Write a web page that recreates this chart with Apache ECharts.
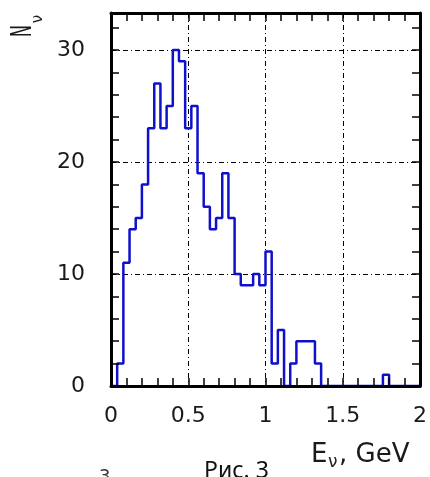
<!DOCTYPE html>
<html>
<head>
<meta charset="utf-8">
<script src="https://cdn.jsdelivr.net/npm/echarts@6/dist/echarts.min.js"></script>
<style>
  html, body { margin: 0; padding: 0; background: #fff; }
  #main { width: 430px; height: 477px; }
</style>
</head>
<body>
<div id="main"></div>
<script>
// histogram of neutrino energies, bins of 0.04 GeV starting at 0
var binStart = 0;
var binWidth = 0.04;
var counts = [
  0, 2, 11, 14, 15, 18, 23, 27, 23, 25,
  30, 29, 23, 25, 19, 16, 14, 15, 19, 15,
  10, 9, 9, 10, 9, 12, 2, 5, 0, 2,
  4, 4, 4, 2, 0, 0, 0, 0, 0, 0,
  0, 0, 0, 0, 1, 0, 0, 0, 0, 0
];
var xTicks = [0, 0.5, 1, 1.5, 2];
var yTicks = [0, 10, 20, 30];

var stepData = counts.map(function (c, i) {
  return [+(binStart + i * binWidth).toFixed(4), c];
});
stepData.push([+(binStart + counts.length * binWidth).toFixed(4), counts[counts.length - 1]]);

var labelFont = 'DejaVu Sans';
var dashDot = [5, 3, 1, 3];
var tickStyle = { color: '#000', width: 1.5 };
var xRange = { min: 0, max: 2, interval: 0.5 };
var yRange = { min: 0, max: 33.3, interval: 10 };

// frame line of one side (no ticks)
function frameAxis(range, extra) {
  return Object.assign({
    type: 'value',
    axisLine: { show: true, onZero: false, lineStyle: { color: '#000', width: 3 } },
    axisTick: { show: false },
    minorTick: { show: false },
    axisLabel: { show: false },
    splitLine: { show: false }
  }, range, extra);
}
// ticks only, pulled inside the frame by the tick length
function tickAxis(range, pos) {
  return Object.assign({
    type: 'value', position: pos, offset: -8, z: 3,
    axisLine: { show: false, onZero: false },
    axisTick: { show: true, length: 8, lineStyle: tickStyle },
    minorTick: { show: true, splitNumber: 5, length: 8, lineStyle: tickStyle },
    axisLabel: { show: false },
    splitLine: { show: false }
  }, range);
}

var chart = echarts.init(document.getElementById('main'));

chart.setOption({
  animation: false,
  backgroundColor: '#fff',
  grid: { left: 111, right: 8, top: 13, bottom: 91 },
  xAxis: [
    frameAxis(xRange, {
      position: 'bottom', z: 3,
      axisLabel: {
        show: true, margin: 19, fontFamily: labelFont, fontSize: 22, color: '#1a1a1a',
        formatter: function (v) { return xTicks.indexOf(v) >= 0 ? String(v) : ''; }
      }
    }),
    frameAxis(xRange, {
      position: 'top',
      splitLine: { show: true, lineStyle: { color: '#000', width: 1, type: dashDot } }
    }),
    tickAxis(xRange, 'bottom'),
    tickAxis(xRange, 'top')
  ],
  yAxis: [
    frameAxis(yRange, {
      position: 'left', z: 3,
      axisLabel: {
        show: true, margin: 26, fontFamily: labelFont, fontSize: 22, color: '#1a1a1a',
        showMaxLabel: false,
        formatter: function (v) { return yTicks.indexOf(v) >= 0 ? String(v) : ''; }
      }
    }),
    frameAxis(yRange, {
      position: 'right',
      splitLine: { show: true, lineStyle: { color: '#000', width: 1, type: dashDot } }
    }),
    tickAxis(yRange, 'left'),
    tickAxis(yRange, 'right')
  ],
  series: [
    {
      type: 'line',
      xAxisIndex: 0,
      yAxisIndex: 0,
      step: 'end',
      showSymbol: false,
      data: stepData,
      lineStyle: { color: '#1010cc', width: 2.5 },
      z: 2
    }
  ],
  graphic: [
    // y axis title N_nu, rotated
    {
      type: 'text', x: 24, y: 31, rotation: Math.PI / 2, scaleY: 1.8,
      style: { text: 'N', font: '16px "DejaVu Sans"', fill: '#1a1a1a', textAlign: 'center', textVerticalAlign: 'middle' }
    },
    {
      type: 'text', x: 38, y: 19, rotation: Math.PI / 2,
      style: { text: 'ν', font: '15px "DejaVu Sans"', fill: '#1a1a1a', textAlign: 'center', textVerticalAlign: 'middle' }
    },
    // x axis title E_nu, GeV
    {
      type: 'text', x: 311, y: 455,
      style: { text: 'E', font: '26px "DejaVu Sans"', fill: '#1a1a1a', textAlign: 'left', textVerticalAlign: 'middle' }
    },
    {
      type: 'text', x: 328, y: 463,
      style: { text: 'ν', font: '17px "DejaVu Sans"', fill: '#1a1a1a', textAlign: 'left', textVerticalAlign: 'middle' }
    },
    {
      type: 'text', x: 339, y: 455,
      style: { text: ', GeV', font: '26px "DejaVu Sans"', fill: '#1a1a1a', textAlign: 'left', textVerticalAlign: 'middle' }
    },
    // caption
    {
      type: 'text', x: 204, y: 471,
      style: { text: 'Рис. 3', font: '23px "Noto Sans"', fill: '#111', textAlign: 'left', textVerticalAlign: 'middle' }
    },
    {
      type: 'text', x: 99, y: 477,
      style: { text: '3', font: '18px "DejaVu Sans"', fill: '#333', textAlign: 'left', textVerticalAlign: 'middle' }
    }
  ]
});
</script>
</body>
</html>
